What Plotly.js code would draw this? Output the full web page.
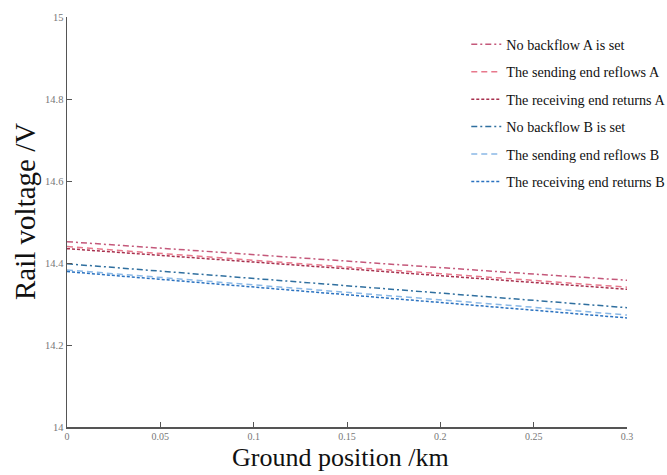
<!DOCTYPE html>
<html>
<head>
<meta charset="utf-8">
<script src="https://cdn.plot.ly/plotly-3.0.1.min.js"></script>
<style>html,body{margin:0;padding:0;background:#fff;}#chart{width:667px;height:475px;}</style>
</head>
<body>
<div id="chart"></div>
<script>
const positions = [0, 0.05, 0.1, 0.15, 0.2, 0.25, 0.3];
const seriesNames = [
  "No backflow A is set",
  "The sending end reflows A",
  "The receiving end returns A",
  "No backflow B is set",
  "The sending end reflows B",
  "The receiving end returns B"
];
const noBackflowA   = [14.452, 14.436, 14.420, 14.404, 14.389, 14.373, 14.358];
const sendingA      = [14.440, 14.423, 14.407, 14.390, 14.374, 14.357, 14.341];
const receivingA    = [14.435, 14.419, 14.402, 14.386, 14.369, 14.353, 14.336];
const noBackflowB   = [14.398, 14.380, 14.363, 14.345, 14.327, 14.309, 14.291];
const sendingB      = [14.383, 14.365, 14.347, 14.329, 14.310, 14.292, 14.273];
const receivingB    = [14.379, 14.360, 14.342, 14.323, 14.304, 14.285, 14.266];
const yTicks = [14, 14.2, 14.4, 14.6, 14.8, 15];
const xTicks = [0, 0.05, 0.1, 0.15, 0.2, 0.25, 0.3];
const xTitle = "Ground position /km";
const yTitle = "Rail voltage /V";

const seriesValues = [noBackflowA, sendingA, receivingA, noBackflowB, sendingB, receivingB];
const colors = ["#c4587a", "#e8788c", "#a8304e", "#2f6f9f", "#8ab8e6", "#2a72c0"];
const dashes = ["6px,3px,2px,3px", "6px,4px", "3px,2px", "6px,3px,2px,3px", "6px,4px", "3px,2px"];

const traces = seriesValues.map((v, i) => ({
  x: positions, y: v, name: seriesNames[i], type: "scatter", mode: "lines",
  legendgroup: "g" + i,
  line: {color: colors[i], width: 1.5, dash: dashes[i]}
}));

const layout = {
  width: 667, height: 475,
  margin: {l: 67, r: 40, t: 17, b: 48, autoexpand: false},
  paper_bgcolor: "#fff", plot_bgcolor: "#fff",
  font: {family: "Liberation Serif, Times New Roman, serif", color: "#222"},
  showlegend: true,
  legend: {x: 0.713, y: 0.972, xanchor: "left", yanchor: "top",
           bgcolor: "rgba(0,0,0,0)", borderwidth: 0,
           font: {family: "Liberation Serif, serif", size: 14.2, color: "#111"},
           tracegroupgap: 6},
  xaxis: {
    range: [0, 0.3], tickvals: xTicks, ticktext: xTicks.map(String),
    showgrid: false, zeroline: false, showline: true, linecolor: "#555", linewidth: 1.5,
    ticks: "inside", ticklen: 5, tickcolor: "#555", ticklabelstandoff: -1,
    tickfont: {family: "Liberation Serif, serif", size: 10, color: "#777"}
  },
  yaxis: {
    range: [14, 15], tickvals: yTicks, ticktext: yTicks.map(String),
    showgrid: false, zeroline: false, showline: true, linecolor: "#555", linewidth: 1.5,
    ticks: "inside", ticklen: 5, tickcolor: "#555",
    tickfont: {family: "Liberation Serif, serif", size: 10.5, color: "#777"}
  },
  annotations: [
    {text: xTitle, xref: "paper", yref: "paper", x: (340 - 67) / 560, y: (427 - 457) / 410,
     xanchor: "center", yanchor: "middle", showarrow: false,
     font: {family: "Liberation Serif, serif", size: 26, color: "#111"}},
    {text: yTitle, xref: "paper", yref: "paper", x: (25 - 67) / 560, y: (427 - 212) / 410,
     xanchor: "center", yanchor: "middle", showarrow: false, textangle: -90,
     font: {family: "Liberation Serif, serif", size: 29, color: "#111"}}
  ]
};
Plotly.newPlot("chart", traces, layout, {displayModeBar: false, staticPlot: true});
</script>
</body>
</html>
